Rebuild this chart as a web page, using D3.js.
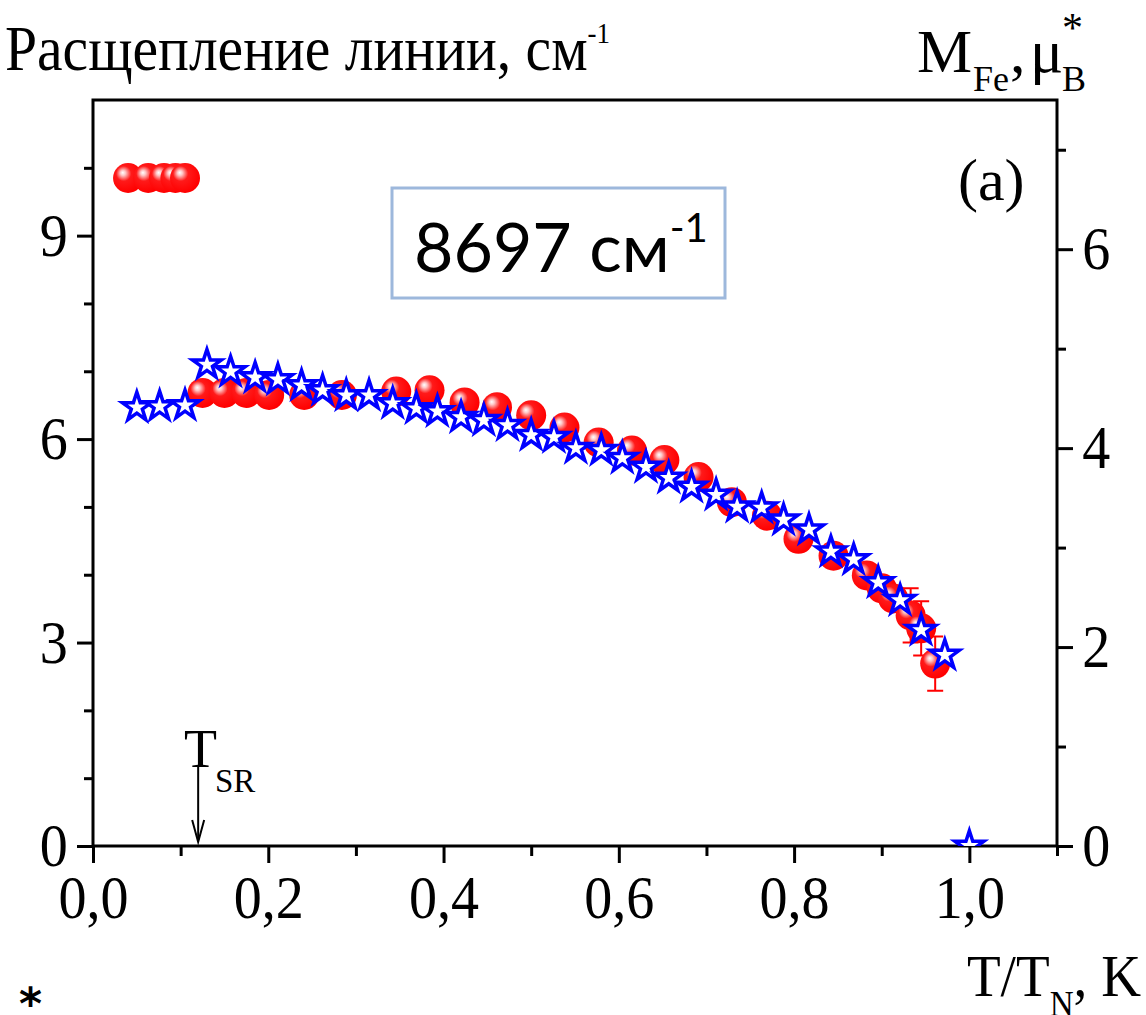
<!DOCTYPE html>
<html>
<head>
<meta charset="utf-8">
<script src="https://cdn.jsdelivr.net/npm/d3@7"></script>
<style>
  body { margin: 0; background: #fff; }
  svg text { font-family: "Liberation Serif", "Times New Roman", serif; fill: #000; }
  .narrow { transform-box: fill-box; transform-origin: center; transform: scaleX(0.92); }
</style>
</head>
<body>
<div id="chart"></div>
<script>
"use strict";

const width = 1146, height = 1015;

// red spheres: line splitting, cm^-1 (left axis)
const splitT = [0.040, 0.063, 0.081, 0.094, 0.105,
	0.125, 0.150, 0.175, 0.201, 0.241, 0.284, 0.346, 0.384, 0.424, 0.461,
	0.500, 0.538, 0.577, 0.615, 0.652, 0.691, 0.729, 0.769, 0.805, 0.845,
	0.883, 0.900, 0.913, 0.933, 0.945, 0.961];
const splitVal = [9.85, 9.85, 9.85, 9.85, 9.85,
	6.68, 6.68, 6.68, 6.65, 6.65, 6.65, 6.70, 6.72, 6.54, 6.47,
	6.35, 6.17, 5.95, 5.83, 5.69, 5.44, 5.07, 4.87, 4.53, 4.28,
	3.99, 3.80, 3.65, 3.40, 3.21, 2.69];
const splitErr = [0, 0, 0, 0, 0,
	0, 0, 0, 0, 0, 0, 0, 0, 0, 0,
	0, 0, 0, 0, 0, 0, 0, 0, 0, 0,
	0, 0, 0, 0.4, 0.4, 0.4];

// blue stars: M_Fe, mu_B (right axis)
const magT = [0.050, 0.076, 0.105, 0.130, 0.157, 0.185, 0.211, 0.238, 0.262, 0.289,
	0.315, 0.342, 0.369, 0.393, 0.420, 0.446, 0.473, 0.500, 0.526, 0.551,
	0.580, 0.604, 0.631, 0.657, 0.683, 0.711, 0.735, 0.763, 0.788, 0.817,
	0.842, 0.868, 0.896, 0.921, 0.945, 0.972, 1.000];
const magVal = [4.41, 4.42, 4.43, 4.84, 4.77, 4.71, 4.69, 4.63, 4.58, 4.53,
	4.53, 4.45, 4.40, 4.37, 4.31, 4.28, 4.23, 4.13, 4.11, 4.00,
	3.98, 3.90, 3.81, 3.70, 3.61, 3.53, 3.41, 3.40, 3.28, 3.18,
	2.96, 2.88, 2.65, 2.47, 2.17, 1.92, 0];

const xTicks = [0, 0.2, 0.4, 0.6, 0.8, 1.0];
const xMinor = [0.1, 0.3, 0.5, 0.7, 0.9, 1.1];
const yLeftTicks = [0, 3, 6, 9];
const yLeftMinor = [1, 2, 4, 5, 7, 8, 10];
const yRightTicks = [0, 2, 4, 6];
const yRightMinor = [1, 3, 5, 7];
const tsr = 0.12;

const plot = { left: 93, right: 1057, top: 100, bottom: 846 };

const x = d3.scaleLinear([0, 1.1], [plot.left, plot.right]);
const yL = d3.scaleLinear([0, 11], [plot.bottom, plot.top]);
const yR = d3.scaleLinear([0, 7.5], [plot.bottom, plot.top]);

const fmt = d => d3.format('.1f')(d).replace('.', ',');

let svg = d3.select('#chart').append('svg')
	.attr('width', width)
	.attr('height', height);

let defs = svg.append('defs');
let grad = defs.append('radialGradient')
	.attr('id', 'sphere')
	.attr('cx', '0.4').attr('cy', '0.4').attr('r', '0.6')
	.attr('fx', '0.32').attr('fy', '0.32');
grad.append('stop').attr('offset', '0%').attr('stop-color', '#ffffff');
grad.append('stop').attr('offset', '14%').attr('stop-color', '#ffc8c8');
grad.append('stop').attr('offset', '42%').attr('stop-color', '#ff1a1a');
grad.append('stop').attr('offset', '100%').attr('stop-color', '#ff0000');

defs.append('clipPath').attr('id', 'plotclip')
	.append('rect')
	.attr('x', plot.left).attr('y', plot.top)
	.attr('width', plot.right - plot.left).attr('height', plot.bottom - plot.top);

//  Axes
function styleAxis(g)
{
	g.select('.domain').remove();
	g.selectAll('line').attr('stroke', '#000').attr('stroke-width', 3);
	g.selectAll('text')
		.classed('narrow', true)
		.style('font-family', '"Liberation Serif", serif')
		.style('font-size', '61px');
}

svg.append('g')
	.attr('transform', `translate(0,${plot.bottom})`)
	.call(d3.axisBottom(x).tickValues(xTicks).tickFormat(fmt).tickSize(17).tickPadding(12))
	.call(styleAxis);
svg.append('g')
	.attr('transform', `translate(0,${plot.bottom})`)
	.call(d3.axisBottom(x).tickValues(xMinor).tickFormat('').tickSize(10))
	.call(styleAxis);

svg.append('g')
	.attr('transform', `translate(${plot.left},0)`)
	.call(d3.axisLeft(yL).tickValues(yLeftTicks).tickFormat(d3.format('d')).tickSize(16).tickPadding(8))
	.call(styleAxis);
svg.append('g')
	.attr('transform', `translate(${plot.left},0)`)
	.call(d3.axisLeft(yL).tickValues(yLeftMinor).tickFormat('').tickSize(9))
	.call(styleAxis);

svg.append('g')
	.attr('transform', `translate(${plot.right},0)`)
	.call(d3.axisRight(yR).tickValues(yRightTicks).tickFormat(d3.format('d')).tickSize(16).tickPadding(8))
	.call(styleAxis);
svg.append('g')
	.attr('transform', `translate(${plot.right},0)`)
	.call(d3.axisRight(yR).tickValues(yRightMinor).tickFormat('').tickSize(9))
	.call(styleAxis);

// frame
svg.append('rect')
	.attr('x', plot.left).attr('y', plot.top)
	.attr('width', plot.right - plot.left).attr('height', plot.bottom - plot.top)
	.attr('fill', 'none').attr('stroke', '#000').attr('stroke-width', 3);

//  Data
let data = svg.append('g').attr('clip-path', 'url(#plotclip)');

let red = splitT.map((t, i) => ({ t: t, v: splitVal[i], e: splitErr[i] }));
let blue = magT.map((t, i) => ({ t: t, v: magVal[i] }));

let errs = red.filter(d => d.e > 0);
data.selectAll('.err')
	.data(errs)
	.join('path')
	.attr('d', d => {
		let cx = x(d.t), y0 = yL(d.v - d.e), y1 = yL(d.v + d.e);
		return `M${cx},${y0}V${y1}M${cx - 8},${y0}H${cx + 8}M${cx - 8},${y1}H${cx + 8}`;
	})
	.attr('stroke', '#ff0000').attr('stroke-width', 2).attr('fill', 'none');

data.selectAll('.sphere')
	.data(red)
	.join('circle')
	.attr('cx', d => x(d.t))
	.attr('cy', d => yL(d.v))
	.attr('r', 15)
	.attr('fill', 'url(#sphere)');

const star = d3.symbol(d3.symbolStar, 260);
data.selectAll('.star')
	.data(blue)
	.join('path')
	.attr('d', star)
	.attr('transform', d => `translate(${x(d.t)},${yR(d.v)})`)
	.attr('fill', '#fff')
	.attr('stroke', '#0000ff')
	.attr('stroke-width', 3.5)
	.attr('stroke-linejoin', 'miter');

//  Labels
let title = svg.append('text').attr('transform', 'translate(5,70) scale(0.9,1)').style('font-size', '64px');
title.append('tspan').text('Расщепление линии, см');
title.append('tspan').attr('dy', -27).style('font-size', '30px').text('-1');

svg.append('text').attr('x', 917).attr('y', 72).style('font-size', '62px').text('M');
svg.append('text').attr('x', 973).attr('y', 91).style('font-size', '36px').text('Fe');
svg.append('text').attr('x', 1010).attr('y', 72).style('font-size', '62px').text(',');
svg.append('text').attr('x', 1030).attr('y', 72).style('font-size', '62px').text('μ');
svg.append('text').attr('x', 1062).attr('y', 42).style('font-size', '42px').text('*');
svg.append('text').attr('x', 1062).attr('y', 91).style('font-size', '36px').text('B');

svg.append('text').attr('x', 958).attr('y', 200).style('font-size', '60px').text('(a)');

let xl = svg.append('text').attr('transform', 'translate(1141,996) scale(0.92,1)')
	.attr('text-anchor', 'end').style('font-size', '60px');
xl.append('tspan').text('T/T');
xl.append('tspan').attr('dy', 20).style('font-size', '36px').text('N');
xl.append('tspan').attr('dy', -20).text(', K');

svg.append('text').attr('x', 19).attr('y', 1019)
	.style('font-family', '"DejaVu Sans", sans-serif').style('font-weight', 'bold').style('font-size', '44px').text('*');

// T_SR marker
svg.append('text').attr('x', 184).attr('y', 767).style('font-size', '54px').text('T');
svg.append('text').attr('x', 215).attr('y', 792).style('font-size', '33px').text('SR');
svg.append('line')
	.attr('x1', x(tsr)).attr('x2', x(tsr))
	.attr('y1', 766).attr('y2', plot.bottom - 6)
	.attr('stroke', '#000').attr('stroke-width', 2);
svg.append('path')
	.attr('d', `M${x(tsr) - 6},${plot.bottom - 26}L${x(tsr)},${plot.bottom - 4}L${x(tsr) + 6},${plot.bottom - 26}`)
	.attr('fill', 'none').attr('stroke', '#000').attr('stroke-width', 2);

// inset box
svg.append('rect')
	.attr('x', 392).attr('y', 188).attr('width', 333).attr('height', 110)
	.attr('fill', '#fff').attr('stroke', '#9db8dc').attr('stroke-width', 3);
let box = svg.append('text').attr('x', 414).attr('y', 272)
	.style('font-family', 'Lato, "Open Sans", sans-serif').style('font-size', '68px');
box.append('tspan').text('8697 см');
box.append('tspan').attr('dy', -30).style('font-size', '40px').text('-1');
</script>
</body>
</html>
